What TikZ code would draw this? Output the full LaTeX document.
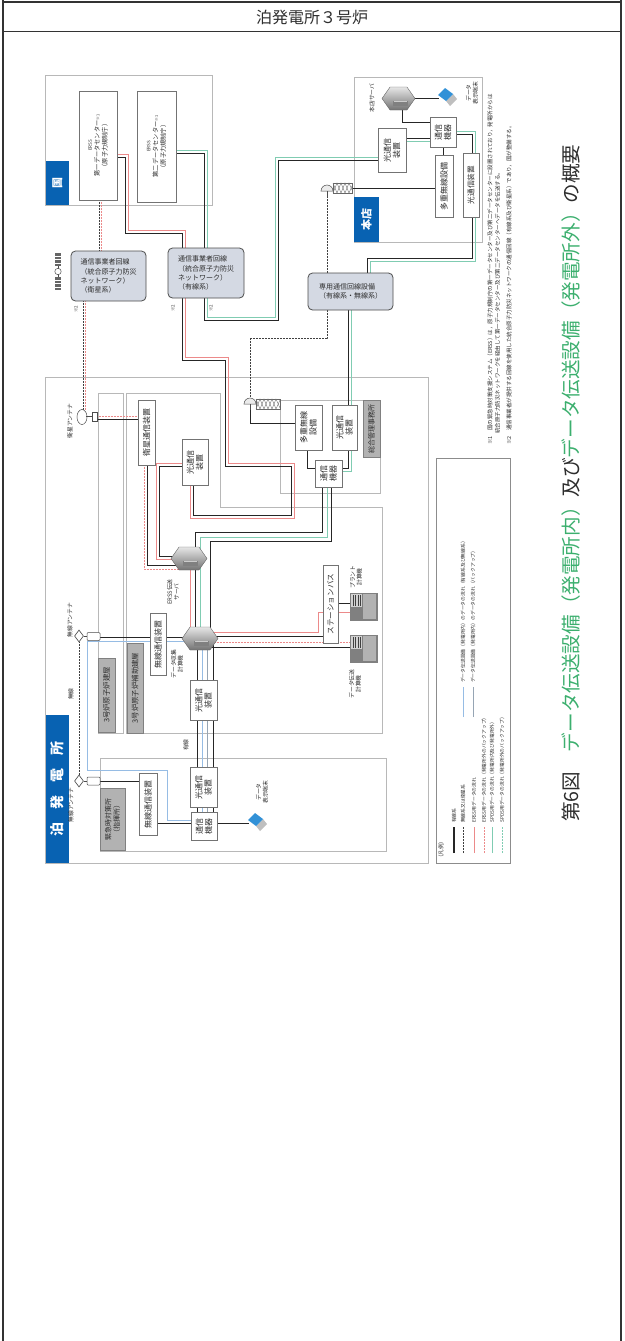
\documentclass[tikz,border=0pt]{standalone}
\usepackage{fontspec}
\setmainfont{Noto Sans CJK JP}
\usetikzlibrary{shapes.symbols,shapes.geometric}
\definecolor{bluebx}{RGB}{8,98,178}
\definecolor{rgray}{RGB}{212,217,227}
\definecolor{redl}{RGB}{236,138,138}
\definecolor{greenl}{RGB}{128,204,178}
\definecolor{lbluel}{RGB}{150,188,228}
\definecolor{graybl}{RGB}{150,165,180}
\definecolor{capgreen}{RGB}{60,175,110}
\definecolor{txt}{RGB}{45,45,45}
\definecolor{lapblue}{RGB}{50,145,215}
\pgfdeclarelayer{back}
\pgfdeclarelayer{lines}
\pgfsetlayers{back,lines,main}
\newcommand\smk[1]{{\fontsize{3.8}{3.8}\selectfont #1}}
\newcommand\lapicon[2]{%
  \begin{scope}[shift={(#1,#2)}]
    \fill[black!25] (8,13) -- (15,6) -- (19,11) -- (12,18) -- cycle;
    \fill[lapblue] (0,7) -- (7,0) -- (15,6) -- (8,13) -- cycle;
  \end{scope}}
\newcommand\compicon[2]{%
  \begin{scope}[shift={(#1,#2)}]
    \fill[black!18] (1,1) rectangle (12,14);
    \foreach \k in {3,5.5,8,10.5} \draw[black!75, line width=0.6pt] (\k,2) -- (\k,13);
    \fill[black!30] (13,1) rectangle (26,26);
  \end{scope}}
\begin{document}
\begin{tikzpicture}[x=1pt,y=-1pt,
  every node/.style={text=txt},
  bx/.style={draw=black!55, fill=white, line width=0.45pt, rotate=90, inner sep=0pt, align=center, font=\fontsize{8}{9.2}\selectfont},
  gbx/.style={bx, fill=black!30, draw=black!50},
  bbx/.style={fill=bluebx, rotate=90, inner sep=0pt, text=white},
  rbx/.style={draw=black!70, fill=rgray, rounded corners=4.5pt, line width=0.8pt, inner sep=0pt, align=left, font=\fontsize{7}{9.2}\selectfont},
  lbl/.style={rotate=90, inner sep=0pt, align=center, font=\fontsize{5.8}{6.8}\selectfont},
  lgd/.style={rotate=90, inner sep=0pt, anchor=west, font=\fontsize{4.8}{5}\selectfont},
  hexsrv/.style={signal, signal to=east and west, signal pointer angle=110, draw=black!60, line width=0.4pt, top color=black!10, bottom color=black!55, inner sep=0pt},
  area/.style={draw=black!28, line width=0.6pt},
  wire/.style={draw=black!85, line width=1pt},
  erss/.style={draw=redl, line width=1pt},
  spds/.style={draw=greenl, line width=1pt},
  wdot/.style={draw=black!75, line width=0.8pt, dash pattern=on 0.8pt off 0.7pt},
  edot/.style={draw=redl, line width=0.8pt, dash pattern=on 0.8pt off 0.7pt},
  gdot/.style={draw=greenl, line width=0.8pt, dash pattern=on 0.8pt off 0.7pt},
  bflow/.style={draw=lbluel, line width=0.8pt},
]
\useasboundingbox (0,0) rectangle (624,1341);

% frame and header
\draw[line width=1.1pt, black!80] (3,0) -- (3,1341);
\draw[line width=1.1pt, black!80] (621,0) -- (621,1341);
\draw[line width=1.1pt, black!80] (3,2) -- (621,2);
\draw[line width=1.8pt, black!80] (3,31.5) -- (621,31.5);
\node[font=\fontsize{16}{16}\selectfont] (hdr) at (312,17) {泊発電所３号炉};

% areas
\begin{pgfonlayer}{back}
\draw[area] (45,75) rectangle (212,205);
\draw[area] (354,77) rectangle (482,242);
\draw[area] (45,377) rectangle (428,863);
\draw[area] (98,393) rectangle (123,733);
\draw[area] (126,393) -- (220,393) -- (220,507) -- (382,507) -- (382,733) -- (126,733) -- cycle;
\draw[area] (280,400) rectangle (380,493);
\draw[area] (100,758) rectangle (386,851);
\draw[draw=black!45, line width=0.6pt] (436,458) rectangle (510,863);
\end{pgfonlayer}

% ---- 国 ----
\node[bbx, minimum width=44pt, minimum height=23pt, font=\fontsize{11}{11}\selectfont\bfseries] (kuni) at (57.5,183) {国};
\node[bx, minimum width=109pt, minimum height=38pt, font=\fontsize{6.2}{7.6}\selectfont] (erss1) at (98,145.5) {{\fontsize{4.6}{5}\selectfont ERSS}\\第一データセンター\smk{※1}\\（原子力規制庁）};
\node[bx, minimum width=111pt, minimum height=39pt, font=\fontsize{6.2}{7.6}\selectfont] (erss2) at (156.5,146.5) {{\fontsize{4.6}{5}\selectfont ERSS}\\第二データセンター\smk{※1}\\（原子力規制庁）};
\node[rbx, minimum width=75pt, minimum height=50pt] (net1) at (108.5,276) {通信事業者回線\\（統合原子力防災\\ネットワーク）\\（衛星系）};
\node[rbx, minimum width=76pt, minimum height=50pt] (net2) at (206,273) {通信事業者回線\\（統合原子力防災\\ネットワーク）\\（有線系）};
\node[rbx, minimum width=85pt, minimum height=37pt] (senyo) at (350.5,291.5) {専用通信回線設備\\（有線系・無線系）};
\node[lbl, font=\fontsize{4.5}{5}\selectfont] (n2a) at (76,309) {※2};
\node[lbl, font=\fontsize{4.5}{5}\selectfont] (n2b) at (173,308) {※2};
\node[lbl, font=\fontsize{4.5}{5}\selectfont] (n2c) at (211,308) {※2};
% orbit satellite
\fill[black!60] (55,253) rectangle (61,266);
\fill[black!60] (55,277) rectangle (61,290);
\foreach \k in {256,259.5,263,280,283.5,287} \draw[white, line width=0.3pt] (55,\k) -- (61,\k);
\draw[black!70, line width=0.5pt] (58,266) -- (58,277);
\draw[black!70, fill=white, line width=0.5pt] (58,271.5) circle[radius=3.2pt];

% ---- 本店 ----
\node[bbx, minimum width=45pt, minimum height=25pt, font=\fontsize{11}{11}\selectfont\bfseries] (honten) at (366.5,219.5) {本店};
\node[hexsrv, minimum width=33pt, minimum height=23pt] (hqsrv) at (398.5,98.5) {};
\node[lbl] (hqsrvl) at (372,98) {本店サーバ};
\node[lbl] (hqlapl) at (472,93) {データ\\表示端末};
\lapicon{438}{88}
\coordinate (lap1) at (439,98.5);
\node[bx, minimum width=30pt, minimum height=26pt] (hqtk) at (443,132) {通信\\機器};
\node[bx, minimum width=44pt, minimum height=28pt] (hqopt1) at (392,150) {光通信\\装置};
\node[bx, minimum width=62pt, minimum height=18pt] (hqmw) at (444,186) {多重無線設備};
\node[bx, minimum width=64pt, minimum height=16pt, font=\fontsize{7.6}{8}\selectfont] (hqopt2) at (471,185) {光通信装置};
% HQ antenna
\draw[black!70, fill=black!8, line width=0.5pt] (321,191) arc[start angle=180, end angle=0, radius=6pt] -- cycle;
\draw[black!70, line width=0.5pt] (327,191) -- (327,197);
\draw[black!60, fill=white, line width=0.4pt] (333,183) rectangle (352,193);
\draw[black!55, line width=0.4pt] (333,183) -- (337,193) -- (341,183) -- (345,193) -- (349,183) -- (352,190);
\draw[black!55, line width=0.4pt] (333,193) -- (337,183) -- (341,193) -- (345,183) -- (349,193) -- (352,186);
\coordinate (hqdish) at (327,197);
\coordinate (hqant) at (352,188);

% ---- 発電所 ----
\node[bbx, minimum width=148pt, minimum height=23pt, font=\fontsize{14}{14}\selectfont\bfseries] (tomari) at (57.5,789) {泊\hspace{13pt}発\hspace{13pt}電\hspace{13pt}所};
\node[bx, minimum width=65pt, minimum height=17pt] (satdev) at (146.5,432.5) {衛星通信装置};
\node[bx, minimum width=46pt, minimum height=26pt] (optA) at (195,462) {光通信\\装置};
\node[hexsrv, minimum width=36pt, minimum height=23pt] (erssv) at (189,558.5) {};
\node[lbl] (erssvl) at (173,592) {ERSS伝送\\サーバ};
\node[hexsrv, minimum width=36pt, minimum height=23pt] (dcsv) at (200,638.5) {};
\node[lbl] (dcsvl) at (177,664) {データ収集\\計算機};
\foreach \h in {hqsrv,erssv,dcsv} {
  \fill[black!50] ([xshift=-6pt,yshift=-2pt]\h.center) rectangle ([xshift=9pt,yshift=-7pt]\h.center);
  \draw[white!80!black, line width=0.3pt] ([xshift=-5pt,yshift=-3pt]\h.center) -- ([xshift=8pt,yshift=-3pt]\h.center);
}
\node[bx, minimum width=45pt, minimum height=27pt] (mwA) at (308.5,427.5) {多重無線\\設備};
\node[bx, minimum width=45pt, minimum height=25pt] (optB) at (344.5,427.5) {光通信\\装置};
\node[bx, minimum width=27pt, minimum height=27pt] (tkA) at (328.5,473.5) {通信\\機器};
\node[gbx, minimum width=57pt, minimum height=17pt, font=\fontsize{7}{8}\selectfont] (kanri) at (371.5,428.5) {総合管理事務所};
\node[bx, minimum width=62pt, minimum height=16pt] (musenA) at (158,644) {無線通信装置};
\node[bx, minimum width=62pt, minimum height=18pt] (musenB) at (148,804) {無線通信装置};
\node[bx, minimum width=40pt, minimum height=27pt] (optC) at (203.5,700) {光通信\\装置};
\node[bx, minimum width=40pt, minimum height=27pt] (optD) at (203.5,787) {光通信\\装置};
\node[bx, minimum width=28pt, minimum height=26pt] (tkB) at (204,826) {通信\\機器};
\node[bx, minimum width=78pt, minimum height=15pt, font=\fontsize{7.6}{8}\selectfont] (stbus) at (330.5,604) {ステーションバス};
\node[gbx, minimum width=74pt, minimum height=17pt, font=\fontsize{7.4}{8}\selectfont] (bld1) at (106.5,695) {3号炉原子炉建屋};
\node[gbx, minimum width=90pt, minimum height=16pt, font=\fontsize{7.4}{8}\selectfont] (bld2) at (135,688) {3号炉原子炉補助建屋};
\node[gbx, minimum width=62pt, minimum height=25pt, font=\fontsize{7}{8.4}\selectfont] (eoc) at (112.5,819) {緊急時対策所\\（指揮所）};
\node[draw=black!50, fill=black!50, minimum width=27pt, minimum height=27pt, inner sep=0pt] (plant) at (363.5,606.5) {};
\compicon{350}{593}
\node[lbl] (plantl) at (356,577) {プラント\\計算機};
\node[draw=black!50, fill=black!50, minimum width=27pt, minimum height=27pt, inner sep=0pt] (dtc) at (363.5,648.5) {};
\compicon{350}{635}
\node[lbl] (dtcl) at (355,684) {データ伝送\\計算機};
\node[lbl] (satantl) at (70,421) {衛星アンテナ};
\node[lbl] (antUl) at (70,620) {無線アンテナ};
\node[lbl] (antLl) at (71,805) {無線アンテナ};
\node[lbl] (musenl) at (71,694) {無線};
\node[lbl] (yusenl) at (186,745) {有線};
\node[lbl] (lap2l) at (262,792) {データ\\表示端末};
\lapicon{248}{813}
\coordinate (lap2) at (249,823);
% satellite antenna (station)
\draw[black!70, fill=white, line width=0.5pt] (82,417) ellipse [x radius=5pt, y radius=7.5pt];
\draw[black!70, line width=0.5pt] (86,416.5) -- (92,416.5);
\draw[black!70, fill=white, line width=0.5pt] (92,412) rectangle (97,421);
\coordinate (satant) at (97,419);
\coordinate (satantT) at (83,409.5);
% radio antennas
\node[diamond, draw=black!75, fill=white, line width=0.6pt, minimum width=9pt, minimum height=12pt, inner sep=0pt] (antUd) at (79,636) {};
\draw[black!70, line width=0.5pt] (83.5,636.5) -- (87,636.5);
\draw[black!70, fill=white, line width=0.5pt, rounded corners=1pt] (87,632.5) rectangle (100,640.5);
\coordinate (antU) at (100,637);
\node[diamond, draw=black!75, fill=white, line width=0.6pt, minimum width=9pt, minimum height=12pt, inner sep=0pt] (antLd) at (79,781) {};
\draw[black!70, line width=0.5pt] (83.5,781) -- (87,781);
\draw[black!70, fill=white, line width=0.5pt, rounded corners=1pt] (87,777) rectangle (100,785);
\coordinate (antL) at (100,781);
% station microwave antenna
\draw[black!70, fill=black!8, line width=0.5pt] (244,404) arc[start angle=180, end angle=0, radius=6pt] -- cycle;
\draw[black!70, line width=0.5pt] (250,404) -- (250,410);
\draw[black!60, fill=white, line width=0.4pt] (256,399) rectangle (280,409);
\draw[black!55, line width=0.4pt] (256,399) -- (260,409) -- (264,399) -- (268,409) -- (272,399) -- (276,409) -- (280,400);
\draw[black!55, line width=0.4pt] (256,409) -- (260,399) -- (264,409) -- (268,399) -- (272,409) -- (276,399) -- (280,408);
\coordinate (stdishT) at (250,398);
\coordinate (stdishB) at (250,410);

% ---- connectors ----
\begin{pgfonlayer}{lines}
\draw[erss] (erss1.south |- 0,154) -- (128,154) -- (128,230) -- (185,230) -- (185,357) -- (228,357) -- (228,463) -- (294,463) -- (294,518) -- (190,518) -- (optA.west -| 190,0);
\draw[wire] (erss1.south |- 0,157) -- (125,157) -- (125,233) -- (182,233) -- (182,360) -- (225,360) -- (225,466) -- (291,466) -- (291,515) -- (193,515) -- (optA.west -| 193,0);
\draw[spds] (erss2.south |- 0,150) -- (207,150) -- (207,317) -- (275,317) -- (275,157) -- (hqopt1.north |- 0,157);
\draw[wire] (erss2.south |- 0,153) -- (204,153) -- (204,320) -- (278,320) -- (278,160) -- (hqopt1.north |- 0,160);
\draw[wdot] (erss1.west -| 99,0) -- (net1.north -| 99,0);
\draw[edot] (erss1.west -| 101.5,0) -- (net1.north -| 101.5,0);
\draw[wdot] (net1.south -| 83,0) -- (satantT);
\draw[edot] (net1.south -| 85.5,0) -- ([xshift=2.5pt]satantT);
% HQ
\draw[wire] (hqsrv.east) -- (lap1);
\draw[wire] (hqsrv.south -| 402,0) -- (402,122) -- (hqtk.north |- 0,122);
\draw[spds] (hqopt1.south |- 0,141) -- (hqtk.north |- 0,141);
\draw[wire] (hqopt1.south |- 0,138) -- (hqtk.north |- 0,138);
\draw[wire] (hqtk.west -| 443,0) -- (hqmw.east -| 443,0);
\draw[spds] (hqtk.south |- 0,131) -- (475,131) -- (hqopt2.east -| 475,0);
\draw[wire] (hqtk.south |- 0,134) -- (472,134) -- (hqopt2.east -| 472,0);
\draw[spds] (hqopt2.west -| 475,0) -- (475,261) -- (370,261) -- (senyo.north -| 370,0);
\draw[wire] (hqopt2.west -| 472,0) -- (472,258) -- (367,258) -- (senyo.north -| 367,0);
\draw[spds] (senyo.south -| 351,0) -- (optB.east -| 351,0);
\draw[wire] (senyo.south -| 348,0) -- (optB.east -| 348,0);
\draw[wire] (hqmw.north |- 0,188) -- (hqant);
\draw[wdot] (hqdish) -- (327,338) -- (250,338) -- (stdishT);
% station
\draw[edot] (satant |- 0,416) -- (satdev.north |- 0,416);
\draw[wire] (satant) -- (satdev.north |- 0,419);
\draw[edot] (satdev.west -| 144,0) -- (144,569) -- (erssv.center |- 0,569);
\draw[wire] (satdev.west -| 147.5,0) -- (147.5,565) -- (erssv.center |- 0,565);
\draw[erss] (optA.north |- 0,463) -- (156,463) -- (156,559) -- (erssv.center |- 0,559);
\draw[wire] (optA.north |- 0,466) -- (159,466) -- (159,556) -- (erssv.center |- 0,556);
\draw[wire] (dcsv.center -| 195,0) -- (195,532) -- (322,532) -- (tkA.west -| 322,0);
\draw[spds] (dcsv.center -| 200,0) -- (200,537) -- (327,537) -- (tkA.west -| 327,0);
\draw[wire] (dcsv.center -| 210,0) -- (210,541) -- (331,541) -- (tkA.west -| 331,0);
\draw[erss] (erssv.center -| 190,0) -- (dcsv.center -| 190,0);
\draw[wire] (mwA.west -| 307,0) -- (307,468) -- (tkA.north |- 0,468);
\draw[spds] (optB.west -| 351,0) -- (351,471) -- (tkA.south |- 0,471);
\draw[wire] (optB.west -| 348,0) -- (348,468) -- (tkA.south |- 0,468);
\draw[wire] (stdishB) -- (250,423) -- (mwA.north |- 0,423);
\draw[erss] (dcsv.center |- 0,632) -- (318,632) -- (318,612) -- (plant.west |- 0,612);
\draw[wire] (dcsv.center |- 0,636) -- (stbus.north |- 0,636);
\draw[wire] (stbus.south |- 0,603) -- (plant.west |- 0,603);
\draw[edot] (dcsv.center |- 0,642) -- (dtc.west |- 0,642);
\draw[wire] (dcsv.center |- 0,647) -- (dtc.west |- 0,647);
\draw[wire] (antU) -- (musenA.north |- 0,637);
\draw[wire] (musenA.south |- 0,637) -- (dcsv.center |- 0,637);
\draw[bflow] (dcsv.center |- 0,641) -- (87,641) -- (87,770) -- (167,770) -- (167,820) -- (tkB.north |- 0,820);
\draw[wdot] (antUd.south) -- (antLd.north);
\draw[wire] (antL) -- (musenB.north |- 0,781);
\draw[wire] (musenB.south |- 0,823) -- (tkB.north |- 0,823);
\draw[wire] (dcsv.center -| 197,0) -- (tkB.center -| 197,0);
\draw[bflow] (dcsv.center -| 202.5,0) -- (tkB.center -| 202.5,0);
\draw[draw=graybl, line width=0.8pt] (dcsv.center -| 207.5,0) -- (tkB.center -| 207.5,0);
\draw[wire] (dcsv.center -| 213,0) -- (tkB.center -| 213,0);
\draw[wire] (tkB.south |- 0,823) -- (lap2);
\end{pgfonlayer}

% ---- legend ----
\node[lgd, font=\fontsize{5.5}{6}\selectfont] (lgtitle) at (441,861) {（凡例）};
\draw[wire, line width=1.2pt] (454,853) -- (454,827); \node[lgd] (lg1) at (454,823) {有線系};
\draw[wdot] (463,853) -- (463,827); \node[lgd] (lg2) at (463,823) {無線系又は衛星系};
\draw[erss] (474,853) -- (474,827); \node[lgd] (lg3) at (474,823) {ERSS用データの流れ};
\draw[edot] (484,853) -- (484,827); \node[lgd] (lg4) at (484,823) {ERSS用データの流れ（発電所外のバックアップ）};
\draw[spds] (492,853) -- (492,827); \node[lgd] (lg5) at (492,823) {SPDS用データの流れ（発電所内及び発電所外）};
\draw[gdot] (502,853) -- (502,827); \node[lgd] (lg6) at (502,823) {SPDS用データの流れ（発電所外のバックアップ）};
\draw[bflow] (463,717) -- (463,687); \node[lgd] (lg7) at (463,683) {データ伝送設備（発電所内）のデータの流れ（有線系及び無線系）};
\draw[draw=graybl, line width=0.8pt] (473,717) -- (473,687); \node[lgd] (lg8) at (473,683) {データ伝送設備（発電所内）のデータの流れ（バックアップ）};

% ---- footnotes ----
\node[lgd, font=\fontsize{5.5}{6}\selectfont] (fn1) at (490,445) {※1　国の緊急時対策支援システム（ERSS）は，原子力規制庁の第一データセンター及び第二データセンターに設置されており，発電所からは};
\node[lgd, font=\fontsize{5.5}{6}\selectfont] (fn1b) at (497.5,445) {　　統合原子力防災ネットワークを経由して第一データセンター及び第二データセンターへデータを伝送する。};
\node[lgd, font=\fontsize{5.5}{6}\selectfont] (fn2) at (509,445) {※2　通信事業者が提供する回線を使用した統合原子力防災ネットワークの通信回線（有線系及び衛星系）であり，国が整備する。};

% ---- caption ----
\node[rotate=90, anchor=west, inner sep=0pt, font=\fontsize{19.6}{19.6}\selectfont] (cap) at (571,822) {第6図\quad\textcolor{capgreen}{データ伝送設備（発電所内）}及び\textcolor{capgreen}{データ伝送設備（発電所外）}の概要};
\end{tikzpicture}
\end{document}
